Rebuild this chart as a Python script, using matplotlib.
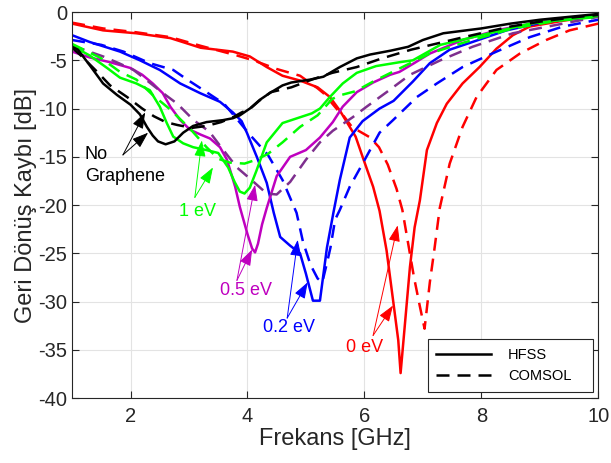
import matplotlib
matplotlib.use('Agg')
import matplotlib.pyplot as plt
from matplotlib.lines import Line2D

plt.rcParams['font.family'] = ['Liberation Sans', 'DejaVu Sans']

# no graphene
f_ng_hfss = [1.0, 1.1, 1.3, 1.53, 1.77, 2.0, 2.16, 2.28, 2.38, 2.47, 2.6, 2.75, 2.9, 3.07, 3.3, 3.58,
             3.75, 3.87, 4.04, 4.21, 4.38, 4.6, 4.75, 5.07, 5.3, 5.58, 5.87, 6.1, 6.45, 6.75, 7.0,
             7.35, 8.0, 8.5, 9.0, 9.5, 10.0]
db_ng_hfss = [-3.6, -3.9, -5.5, -7.4, -8.6, -9.6, -10.6, -11.9, -12.8, -13.4, -13.7, -13.4, -12.5,
              -11.8, -11.4, -11.2, -11.0, -10.7, -10.0, -9.1, -8.4, -7.6, -7.3, -7.0, -6.7, -5.7, -4.8,
              -4.4, -4.0, -3.6, -2.9, -2.2, -1.7, -1.2, -0.8, -0.5, -0.2]
f_ng_comsol = [1.0, 1.15, 1.43, 1.65, 1.94, 2.2, 2.4, 2.6, 2.8, 3.05, 3.3, 3.55, 3.75, 3.9, 4.05, 4.2,
               4.4, 4.75, 5.1, 5.45, 5.87, 6.3, 6.8, 7.7, 8.5, 9.0, 9.5, 10.0]
db_ng_comsol = [-3.7, -4.5, -6.2, -7.6, -8.8, -10.0, -10.8, -11.4, -11.7, -12.0, -11.8, -11.4, -10.9,
                -10.4, -10.0, -9.2, -8.3, -7.8, -7.0, -6.3, -5.7, -4.8, -3.9, -2.6, -1.5, -1.0, -0.6, -0.3]

# 1 eV
f_1_hfss = [1.0, 1.3, 1.6, 1.82, 2.1, 2.33, 2.5, 2.62, 2.73, 2.9, 3.07, 3.3, 3.5, 3.67, 3.78, 3.87, 3.95,
            4.04, 4.15, 4.33, 4.6, 4.9, 5.1, 5.24, 5.41, 5.63, 5.87, 6.2, 6.6, 6.83, 7.3, 8.0, 8.83, 10.0]
db_1_hfss = [-3.5, -4.5, -5.8, -6.8, -7.4, -8.1, -9.8, -11.5, -12.9, -13.6, -14.0, -14.3, -14.6, -16.1,
             -17.6, -18.6, -18.8, -18.2, -16.5, -13.5, -11.5, -10.9, -10.5, -10.0, -8.8, -7.4, -6.3,
             -5.6, -5.2, -5.0, -3.4, -2.4, -1.2, -0.4]
f_1_comsol = [1.0, 1.5, 1.82, 2.1, 2.38, 2.68, 3.02, 3.3, 3.5, 3.7, 3.95, 4.15, 4.35, 4.6, 4.9, 5.2,
              5.45, 5.6, 5.85, 6.15, 6.55, 7.12, 7.68, 8.54, 9.3, 10.0]
db_1_comsol = [-3.3, -4.8, -6.2, -7.0, -8.6, -10.1, -12.1, -14.0, -15.2, -15.6, -15.7, -15.3, -14.7,
               -13.5, -11.9, -10.7, -9.0, -8.6, -8.2, -7.2, -6.0, -4.3, -3.2, -1.7, -0.9, -0.5]

# 0.5 eV
f_05_hfss = [1.0, 1.3, 1.65, 2.0, 2.2, 2.38, 2.55, 2.68, 2.85, 3.02, 3.2, 3.36, 3.53, 3.65, 3.79, 3.87,
             4.0, 4.08, 4.13, 4.18, 4.25, 4.33, 4.5, 4.73, 5.0, 5.24, 5.46, 5.63, 5.87, 6.15, 6.44, 6.6,
             6.85, 7.12, 7.68, 8.26, 9.1, 10.0]
db_05_hfss = [-4.1, -4.7, -5.2, -5.8, -6.5, -7.4, -8.4, -9.8, -11.2, -12.2, -12.7, -13.1, -14.0, -15.3,
              -18.1, -20.2, -23.0, -24.5, -24.9, -24.0, -22.0, -20.3, -17.0, -15.0, -14.3, -13.0, -11.4,
              -9.8, -8.3, -7.3, -6.5, -6.2, -5.3, -4.3, -2.9, -1.9, -0.9, -0.4]
f_05_comsol = [1.0, 1.2, 1.53, 1.8, 2.05, 2.2, 2.45, 2.6, 2.8, 3.08, 3.35, 3.55, 3.82, 4.05, 4.33, 4.5,
               4.73, 5.0, 5.24, 5.46, 5.8, 6.04, 6.38, 6.78, 7.3, 7.85, 8.54, 9.4, 10.0]
db_05_comsol = [-3.5, -3.9, -4.6, -5.3, -6.0, -6.7, -7.9, -8.6, -9.5, -11.2, -12.4, -14.0, -16.1, -17.3,
                -18.8, -18.9, -17.6, -15.3, -13.5, -12.3, -10.9, -9.8, -8.3, -6.5, -5.0, -3.6, -2.2,
                -1.2, -0.5]

# 0.2 eV
f_02_hfss = [1.0, 1.3, 1.82, 2.16, 2.5, 2.85, 3.19, 3.53, 3.75, 3.9, 3.99, 4.16, 4.33, 4.45, 4.56, 4.73,
             4.9, 5.0, 5.12, 5.24, 5.36, 5.47, 5.58, 5.75, 5.97, 6.26, 6.5, 6.83, 7.12, 7.46, 7.85, 8.43,
             9.1, 10.0]
db_02_hfss = [-2.4, -3.1, -4.1, -5.0, -6.0, -7.4, -8.4, -9.3, -10.4, -11.3, -12.5, -15.0, -17.7, -20.8,
              -23.3, -24.2, -25.0, -27.1, -29.9, -29.9, -24.4, -20.8, -17.4, -13.0, -11.3, -10.0, -9.2,
              -7.2, -5.3, -3.9, -3.1, -1.9, -1.0, -0.4]
f_02_comsol = [1.0, 1.5, 1.88, 2.33, 2.73, 2.97, 3.3, 3.6, 3.85, 4.04, 4.35, 4.6, 4.84, 4.95, 5.08, 5.2,
               5.28, 5.36, 5.42, 5.5, 5.58, 5.75, 5.97, 6.26, 6.49, 6.9, 7.24, 7.68, 8.26, 8.83, 9.4, 10.0]
db_02_comsol = [-2.9, -3.4, -4.1, -5.3, -6.0, -7.0, -8.3, -9.5, -11.3, -12.7, -14.8, -17.4, -20.8, -23.8,
                -26.2, -27.6, -28.0, -26.0, -24.4, -21.5, -20.5, -18.1, -15.7, -12.5, -11.2, -8.8, -7.4,
                -5.7, -4.1, -2.6, -1.5, -0.8]

# 0 eV
f_0_hfss = [1.0, 1.53, 2.1, 2.68, 3.2, 3.75, 4.04, 4.33, 4.6, 4.9, 5.2, 5.41, 5.58, 5.75, 5.85, 5.97, 6.15,
            6.26, 6.38, 6.49, 6.58, 6.62, 6.69, 6.78, 6.86, 6.95, 7.07, 7.24, 7.41, 7.68, 7.97, 8.26,
            8.54, 8.83, 9.4, 10.0]
db_0_hfss = [-1.2, -1.9, -2.2, -2.7, -3.7, -4.1, -4.6, -5.7, -6.6, -7.1, -7.8, -8.8, -10.2, -11.9, -12.9,
             -15.0, -18.1, -20.6, -24.7, -29.8, -34.0, -37.4, -32.6, -26.4, -22.3, -19.5, -14.3, -11.5,
             -9.5, -7.4, -5.7, -3.8, -2.4, -1.5, -0.9, -0.4]
f_0_comsol = [1.0, 1.53, 2.1, 2.68, 3.2, 3.82, 4.1, 4.5, 4.9, 5.2, 5.3, 5.55, 5.65, 5.8, 5.9, 6.1, 6.25,
              6.4, 6.55, 6.65, 6.75, 6.85, 6.95, 7.03, 7.12, 7.2, 7.29, 7.46, 7.68, 7.92, 8.26, 8.66,
              9.11, 9.51, 10.0]
db_0_comsol = [-1.1, -1.7, -2.1, -2.6, -3.5, -4.5, -5.0, -5.9, -6.6, -7.9, -8.4, -10.2, -10.8, -12.0,
               -12.3, -13.0, -14.0, -15.8, -18.3, -20.5, -24.0, -27.5, -30.5, -32.8, -28.0, -24.5, -20.3,
               -15.7, -11.9, -8.8, -6.0, -4.3, -2.9, -1.9, -1.2]

lw = 1.8
dash = (5.2, 3.2)

fig = plt.figure(figsize=(6.11, 4.63), dpi=100)
ax = fig.add_axes([0.118, 0.140, 0.861, 0.834])

ax.plot(f_0_hfss, db_0_hfss, color='#ff0000', lw=lw)
ax.plot(f_0_comsol, db_0_comsol, color='#ff0000', lw=lw, dashes=dash)
ax.plot(f_02_hfss, db_02_hfss, color='#0000ff', lw=lw)
ax.plot(f_02_comsol, db_02_comsol, color='#0000ff', lw=lw, dashes=dash)
ax.plot(f_05_hfss, db_05_hfss, color='#bf00bf', lw=lw)
ax.plot(f_05_comsol, db_05_comsol, color='#7e2f8e', lw=lw, dashes=dash)
ax.plot(f_1_hfss, db_1_hfss, color='#00ff00', lw=lw)
ax.plot(f_1_comsol, db_1_comsol, color='#00ff00', lw=lw, dashes=dash)
ax.plot(f_ng_hfss, db_ng_hfss, color='black', lw=lw)
ax.plot(f_ng_comsol, db_ng_comsol, color='black', lw=lw, dashes=dash)

ax.set_xlim(1, 10)
ax.set_ylim(-40, 0)
ax.set_xticks([2, 4, 6, 8, 10])
ax.set_yticks(range(-40, 1, 5))
ax.set_yticklabels([str(v) for v in range(-40, 1, 5)])
ax.grid(True, color='#e3e3e3', lw=0.8)
ax.tick_params(direction='in', length=5, top=True, right=True, labelsize=14.5,
               colors='#262626', width=0.8)
ax.tick_params(axis='x', pad=6)
for s in ax.spines.values():
    s.set_color('#262626')
    s.set_linewidth(0.8)

ax.set_xlabel('Frekans [GHz]', fontsize=17, color='#262626', labelpad=2)
ax.set_ylabel('Geri Dönüş Kaybı [dB]', fontsize=17, color='#262626', labelpad=1)

# annotations: label, colour, text position, alignment, arrow start, arrow tips
notes = [
    ('No\nGraphene', 'black', (1.22, -15.9), 'left', (1.87, -14.8), [(2.25, -10.4), (2.30, -12.5)]),
    ('1 eV', '#00ff00', (3.14, -20.7), 'center', (3.10, -19.2), [(3.22, -13.3), (3.41, -16.1)]),
    ('0.5 eV', '#bf00bf', (3.97, -28.8), 'center', (3.82, -27.8), [(4.08, -24.6), (4.13, -17.9)]),
    ('0.2 eV', '#0000ff', (4.71, -32.7), 'center', (4.68, -31.7), [(4.86, -23.6), (5.03, -28.0)]),
    ('0 eV', '#ff0000', (6.01, -34.7), 'center', (6.15, -33.5), [(6.57, -22.1), (6.49, -30.4)]),
]
for label, col, pos, ha, start, tips in notes:
    ax.text(pos[0], pos[1], label, color=col, fontsize=13, ha=ha, va='center',
            multialignment='left', linespacing=1.45)
    for tip in tips:
        ax.annotate('', xy=tip, xytext=start,
                    arrowprops=dict(arrowstyle='-|>,head_length=0.9,head_width=0.32',
                                    color=col, lw=0.7, mutation_scale=11, shrinkA=0, shrinkB=0))

handles = [Line2D([], [], color='black', lw=lw),
           Line2D([], [], color='black', lw=lw, dashes=dash)]
leg = ax.legend(handles, ['HFSS', 'COMSOL'], loc='lower left', mode='expand',
                bbox_to_anchor=(0.676, 0.0155, 0.315, 0.12), borderaxespad=0,
                fontsize=10.5, fancybox=False, edgecolor='#262626', framealpha=1,
                handlelength=3.75, handletextpad=1.15, borderpad=0.6, labelspacing=0.5)
leg.get_frame().set_linewidth(0.8)

plt.savefig('out.png', dpi=100)
